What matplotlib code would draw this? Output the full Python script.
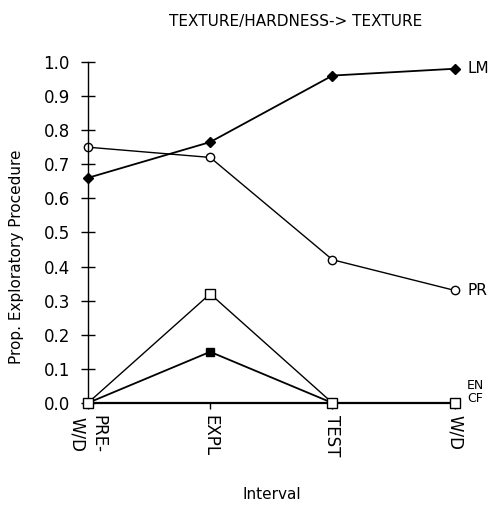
import matplotlib.pyplot as plt

# intervals along x
intervals = ["PRE-\nW/D", "EXPL", "TEST", "W/D"]
# proportion of each exploratory procedure
lm = [0.66, 0.765, 0.96, 0.98]
pr = [0.75, 0.72, 0.42, 0.33]
en = [0.0, 0.32, 0.0, 0.0]
cf = [0.0, 0.15, 0.0, 0.0]
yticks = [0.0, 0.1, 0.2, 0.3, 0.4, 0.5, 0.6, 0.7, 0.8, 0.9, 1.0]

fig = plt.figure(figsize=(4.88, 5.16), dpi=100)
ax = fig.add_axes([0.18, 0.219, 0.752, 0.661])
x = list(range(len(intervals)))

ax.plot(x, lm, color="black", lw=1.3, marker="D", ms=5, mfc="black", mec="black", clip_on=False)
ax.plot(x, pr, color="black", lw=1.0, marker="o", ms=6, mfc="white", mec="black", clip_on=False)
ax.plot(x, en, color="black", lw=1.0, marker="s", ms=7, mfc="white", mec="black", clip_on=False, zorder=3)
ax.plot(x, cf, color="black", lw=1.3, marker="s", ms=6, mfc="black", mec="black", clip_on=False, zorder=2)

# series labels at right end
ax.text(3.1, lm[-1], "LM", va="center", ha="left", fontsize=11)
ax.text(3.1, pr[-1], "PR", va="center", ha="left", fontsize=11)
ax.text(3.1, en[-1] + 0.052, "EN", va="center", ha="left", fontsize=9)
ax.text(3.1, cf[-1] + 0.014, "CF", va="center", ha="left", fontsize=9)

ax.set_xlim(0, 3)
ax.set_ylim(0, 1.0)
ax.set_xticks(x)
ax.set_xticklabels(intervals, rotation=-90, fontsize=12, va="top", ha="center")
ax.set_yticks(yticks)
ax.set_yticklabels([f"{v:.1f}" for v in yticks], fontsize=12)
ax.tick_params(axis="y", direction="inout", length=10, width=1, pad=8)
ax.tick_params(axis="x", direction="out", length=4, width=1, pad=5)

for s in ["top", "right"]:
    ax.spines[s].set_visible(False)
ax.spines["left"].set_linewidth(1.0)
ax.spines["bottom"].set_linewidth(1.6)

ax.set_xlabel("Interval", fontsize=11, labelpad=22)
ax.set_ylabel("Prop. Exploratory Procedure", fontsize=11)
ax.yaxis.set_label_coords(-0.175, 0.43)
fig.text(0.605, 0.958, "TEXTURE/HARDNESS-> TEXTURE", ha="center", va="center", fontsize=11)

fig.savefig("out.png", dpi=100)
